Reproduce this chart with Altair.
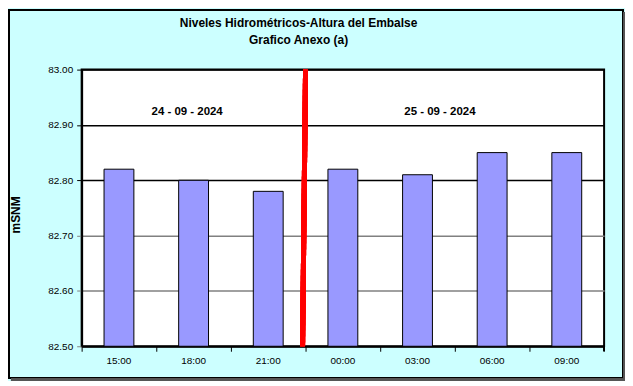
import altair as alt
import pandas as pd

hours = ["15:00", "18:00", "21:00", "00:00", "03:00", "06:00", "09:00"]
levels = [82.82, 82.80, 82.78, 82.82, 82.81, 82.85, 82.85]
date_labels = ["24 - 09 - 2024", "25 - 09 - 2024"]
title_lines = ["Niveles Hidrométricos-Altura del Embalse", "Grafico Anexo (a)"]
y_ticks = [82.5, 82.6, 82.7, 82.8, 82.9, 83.0]

df = pd.DataFrame({"hora": hours, "nivel": levels})

W, H = 525, 278
FONT = "Liberation Sans"

x_enc = alt.X(
    "hora:N", sort=hours, title=None,
    scale=alt.Scale(paddingInner=0, paddingOuter=0),
    axis=alt.Axis(labelAngle=0, labelFontSize=10, labelFont=FONT, labelColor="black",
                  tickColor="black", tickSize=5, tickWidth=1, bandPosition=0,
                  domainColor="black", domainWidth=2, labelPadding=4, grid=False),
)
y_enc = alt.Y(
    "nivel:Q", title=None,
    scale=alt.Scale(domain=[82.5, 83.0], zero=False, nice=False),
    axis=alt.Axis(values=y_ticks, format=".2f", labelFontSize=10, labelFont=FONT,
                  labelColor="black", tickSize=5, labelPadding=4,
                  tickColor={"condition": {"test": "datum.value >= 82.75", "value": "#000000"}, "value": "#808080"},
                  gridColor={"condition": {"test": "datum.value >= 82.75", "value": "#000000"}, "value": "#808080"},
                  gridWidth=1.5, domainColor="black", domainWidth=2),
)

bars = alt.Chart(df).mark_bar(size=30, color="#9999FF", stroke="black", strokeWidth=1, clip=True).encode(
    x=x_enc, y=y_enc, y2=alt.datum(82.5)
)

red_line = alt.Chart(df).mark_rule(color="#FF0000", strokeWidth=5).encode(
    x=alt.value(225), x2=alt.value(222), y=alt.value(0), y2=alt.value(H)
)

last_tick = alt.Chart(df).mark_rule(color="black", strokeWidth=1).encode(
    x=alt.value(W), y=alt.value(H), y2=alt.value(H + 5)
)

dates_df = pd.DataFrame({"label": date_labels, "px": [106, 360]})
dates = alt.Chart(dates_df).mark_text(font=FONT, fontSize=11.5, fontWeight="bold", color="black").encode(
    text="label:N", x=alt.X("px:Q", scale=None), y=alt.value(43)
)

title_df = pd.DataFrame({"t": title_lines, "py": [-47, -30]})
title = alt.Chart(title_df).mark_text(font=FONT, fontSize=12, fontWeight="bold", color="black").encode(
    text="t:N", x=alt.value(218), y=alt.Y("py:Q", scale=None)
)

ytitle = alt.Chart(pd.DataFrame({"t": ["mSNM"]})).mark_text(
    angle=270, font=FONT, fontSize=12, fontWeight="bold", color="black",
    align="center", baseline="middle").encode(
    text="t:N", x=alt.value(-66), y=alt.value(146)
)

frame = alt.Chart(df).mark_rect(fill=None, stroke="black", strokeWidth=2, clip=False).encode(
    x=alt.value(-73), x2=alt.value(W + 19), y=alt.value(-60), y2=alt.value(H + 32)
)
shadow_r = alt.Chart(df).mark_rule(color="#555555", strokeWidth=3).encode(
    x=alt.value(W + 21), y=alt.value(-58), y2=alt.value(H + 34)
)
shadow_b = alt.Chart(df).mark_rule(color="#555555", strokeWidth=3).encode(
    x=alt.value(-71), x2=alt.value(W + 21), y=alt.value(H + 34)
)

chart = alt.layer(bars, red_line, last_tick, dates, title, ytitle, frame, shadow_r, shadow_b).properties(
    width=W, height=H,
    background="#CCFFFF",
    padding={"left": 74, "top": 61, "right": 21, "bottom": 34},
    autosize=alt.AutoSizeParams(type="none"),
).configure_view(
    stroke="black", strokeWidth=2, fill="white"
)

chart.save("out.html", embed_options={"renderer": "svg", "actions": False})
